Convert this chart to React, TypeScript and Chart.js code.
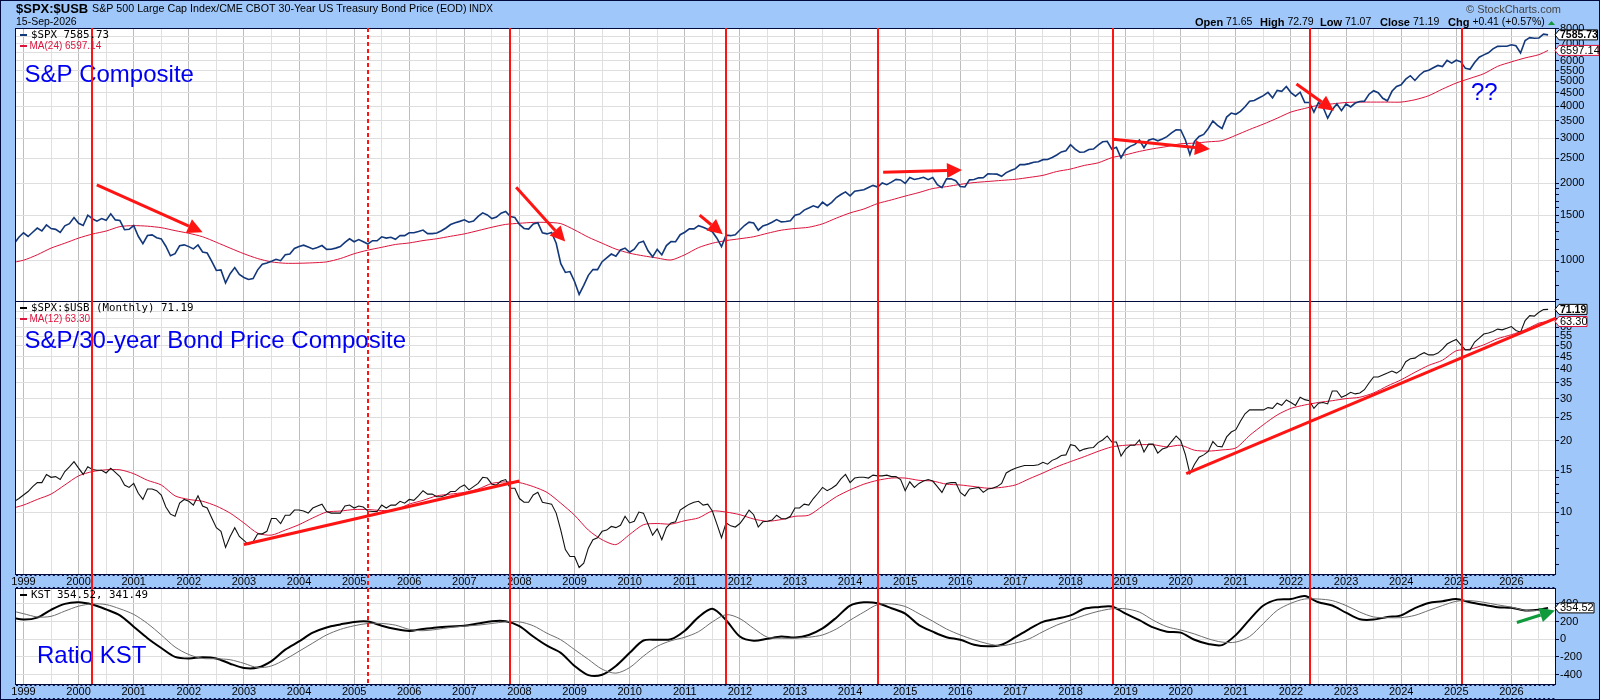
import React, { useEffect, useRef } from "react";
import { Chart, registerables } from "chart.js";

Chart.register(...registerables);

const BLUE = "#9fc7fa";
const NAVY = "#000a3c";
const RED = "#ff1414";
const CRIMSON = "#dc143c";
const FONT = '"Liberation Sans", Arial, sans-serif';
const MONO = '"DejaVu Sans Mono", monospace';

// monthly closes, Nov 1998 .. Sep 2026
const spxValues = [
  1163, 1229,
  1280, 1238, 1286, 1335, 1302, 1373, 1329, 1320, 1283, 1363, 1389, 1469,
  1394, 1366, 1499, 1452, 1421, 1455, 1431, 1518, 1437, 1429, 1315, 1320,
  1366, 1240, 1160, 1249, 1256, 1224, 1211, 1134, 1041, 1060, 1139, 1148,
  1130, 1107, 1147, 1077, 1067, 990, 912, 916, 815, 886, 936, 880,
  856, 841, 848, 917, 964, 975, 990, 1008, 996, 1051, 1058, 1112,
  1131, 1145, 1126, 1107, 1121, 1141, 1102, 1104, 1115, 1130, 1174, 1212,
  1181, 1204, 1181, 1157, 1192, 1191, 1234, 1220, 1229, 1207, 1249, 1248,
  1280, 1281, 1295, 1311, 1270, 1270, 1277, 1304, 1336, 1378, 1401, 1418,
  1438, 1407, 1421, 1482, 1531, 1503, 1455, 1474, 1527, 1549, 1481, 1468,
  1379, 1331, 1323, 1386, 1400, 1280, 1267, 1283, 1165, 969, 896, 903,
  826, 735, 798, 873, 919, 919, 987, 1021, 1057, 1036, 1096, 1115,
  1074, 1104, 1169, 1187, 1089, 1031, 1102, 1049, 1141, 1183, 1181, 1258,
  1286, 1327, 1326, 1364, 1345, 1321, 1292, 1219, 1131, 1253, 1247, 1258,
  1312, 1366, 1408, 1398, 1310, 1362, 1379, 1407, 1441, 1412, 1416, 1426,
  1498, 1515, 1569, 1598, 1631, 1606, 1686, 1633, 1682, 1757, 1806, 1848,
  1783, 1859, 1872, 1884, 1924, 1960, 1931, 2003, 1972, 2018, 2068, 2059,
  1995, 2105, 2068, 2086, 2107, 2063, 2104, 1972, 1920, 2079, 2080, 2044,
  1940, 1932, 2060, 2065, 2097, 2099, 2174, 2171, 2168, 2126, 2199, 2239,
  2279, 2364, 2363, 2384, 2412, 2423, 2470, 2472, 2519, 2575, 2648, 2674,
  2824, 2714, 2641, 2648, 2705, 2718, 2816, 2902, 2914, 2712, 2760, 2507,
  2704, 2784, 2834, 2946, 2752, 2942, 2980, 2926, 2977, 3038, 3141, 3231,
  3226, 2954, 2585, 2912, 3044, 3100, 3271, 3500, 3363, 3270, 3622, 3756,
  3714, 3811, 3973, 4181, 4204, 4298, 4395, 4523, 4308, 4605, 4567, 4766,
  4516, 4374, 4530, 4132, 4132, 3785, 4130, 3955, 3586, 3872, 4080, 3840,
  4077, 3970, 4109, 4169, 4180, 4450, 4589, 4508, 4288, 4194, 4568, 4770,
  4846, 5096, 5254, 5036, 5278, 5460, 5522, 5648, 5762, 5705, 6032, 5882,
  6041, 5955, 5612, 5569, 5912, 6205, 6339, 6460, 6688, 6840, 6849, 6845,
  6939, 6879, 6450, 7210, 7400, 7360, 7380, 7640, 7585.73,
];

const ratioValues = [
  11.1, 11.4,
  11.8, 12.2, 12.8, 13.3, 13.3, 14.4, 14.0, 14.1, 13.7, 14.8, 15.5, 16.3,
  15.3, 14.4, 15.5, 15.1, 15.0, 15.0, 14.6, 15.3, 14.7, 14.1, 13.0, 12.7,
  13.2, 12.0, 11.3, 12.5, 12.5, 12.3, 11.8, 10.5, 9.8, 9.6, 10.9, 11.3,
  11.1, 10.7, 11.7, 10.6, 10.4, 9.45, 8.6, 8.3, 7.1, 7.9, 8.6, 7.9,
  7.6, 7.3, 7.5, 8.1, 8.1, 8.3, 9.4, 9.4, 8.95, 9.7, 9.7, 10.2,
  10.2, 10.1, 9.9, 10.4, 10.6, 10.8, 10.05, 9.9, 9.9, 9.9, 10.6, 10.7,
  10.4, 10.6, 10.5, 10.1, 10.05, 10.05, 10.7, 10.4, 10.7, 10.7, 11.1, 10.9,
  11.3, 11.2, 11.7, 12.3, 11.9, 11.9, 11.6, 11.6, 11.8, 12.2, 12.2, 12.7,
  13.0, 12.4, 12.8, 13.2, 14.0, 13.9, 13.1, 13.0, 13.5, 13.7, 12.6, 12.6,
  11.4, 11.0, 11.0, 11.8, 12.1, 11.0, 10.9, 10.8, 9.9, 8.4, 6.95, 6.5,
  6.5, 5.85, 6.1, 7.05, 7.65, 7.8, 8.3, 8.4, 8.7, 8.6, 8.8, 9.6,
  9.0, 9.15, 10.0, 9.9, 8.9, 8.0, 8.5, 7.65, 8.6, 9.0, 9.1, 10.2,
  10.5, 10.8, 11.0, 11.1, 10.7, 10.8, 10.1, 8.9, 7.8, 9.0, 8.75, 8.65,
  8.95, 9.5, 10.2, 9.75, 8.65, 9.1, 9.15, 9.25, 9.7, 9.4, 9.35, 9.6,
  10.4, 10.4, 10.8, 10.7, 11.4, 12.0, 12.7, 12.3, 12.6, 13.0, 13.8, 14.4,
  13.3, 13.9, 14.0, 14.0, 13.9, 14.3, 14.2, 14.2, 14.3, 14.1, 14.1, 13.7,
  12.3, 13.4, 12.7, 13.2, 13.5, 13.7, 13.5, 12.8, 12.1, 13.2, 13.3, 13.3,
  12.1, 11.7, 12.5, 12.6, 12.7, 12.1, 12.5, 12.6, 12.8, 13.2, 14.6, 15.0,
  15.3, 15.5, 15.7, 15.7, 15.7, 15.8, 16.2, 15.9, 16.5, 16.8, 17.3, 17.4,
  19.2, 19.0, 18.05, 18.4, 18.6, 18.7, 19.6, 20.1, 20.9, 19.7, 19.7, 17.2,
  18.4, 19.1, 19.1, 20.1, 17.9, 19.3, 19.3, 17.7, 18.4, 18.7, 19.8, 20.9,
  20.0, 17.5, 14.5, 15.9, 17.0, 17.4, 18.0, 19.8, 18.9, 18.8, 20.7, 21.7,
  22.2, 24.1, 25.9, 26.9, 26.9, 26.9, 26.9, 27.5, 27.3, 28.7, 28.1, 29.6,
  28.9, 28.1, 30.4, 29.7, 29.4, 27.3, 28.7, 28.9, 28.5, 32.3, 32.3, 30.4,
  31.0, 31.9, 31.4, 31.7, 32.7, 34.9, 37.0, 37.0, 37.7, 38.4, 39.2, 38.4,
  39.6, 42.9, 44.1, 44.4, 45.8, 46.8, 45.8, 45.8, 46.6, 48.4, 50.9, 52.2,
  53.2, 50.5, 48.1, 48.1, 51.9, 53.9, 56.1, 56.6, 57.5, 58.8, 58.4, 59.3,
  60.3, 58.0, 57.1, 63.9, 67.0, 66.7, 69.2, 71.0, 71.19,
];

// quarterly readings, Oct 1998 .. Jul 2026, then the Sep 2026 end value
const ma24Values = [
  975,
  1000, 1050, 1115, 1165, 1220, 1265, 1300, 1353, 1365, 1358, 1340, 1305,
  1274, 1235, 1175, 1115, 1060, 1015, 985, 973, 973, 977, 985, 1015,
  1060, 1095, 1123, 1152, 1168, 1193, 1213, 1240, 1267, 1305, 1345, 1380,
  1394, 1405, 1405, 1390, 1313, 1230, 1165, 1105, 1065, 1040, 1020, 1002,
  1050, 1120, 1165, 1193, 1213, 1235, 1274, 1310, 1330, 1345, 1387, 1460,
  1530, 1585, 1665, 1720, 1780, 1838, 1905, 1938, 1978, 2010, 2030, 2050,
  2070, 2105, 2145, 2220, 2270, 2345, 2400, 2515, 2580, 2660, 2725, 2780,
  2850, 2865, 2900, 2930, 3075, 3240, 3400, 3585, 3790, 3915, 4030, 4080,
  4130, 4145, 4145, 4145, 4145, 4233, 4390, 4660, 4920, 5130, 5350, 5716,
  5950, 6165, 6350, 6597.14,
];

const ma12Values = [
  10.3,
  10.7, 11.3, 11.9, 13.0, 14.2, 14.8, 15.06, 15.06, 14.5, 13.6, 13.0, 11.7,
  11.3, 11.1, 10.6, 9.9, 9.0, 8.15, 8.0, 8.4, 8.85, 9.45, 10.0, 10.1,
  10.25, 10.25, 10.15, 10.2, 10.8, 11.2, 11.7, 11.9, 12.1, 12.5, 13.2, 13.4,
  13.3, 12.8, 12.1, 10.9, 9.7, 8.4, 7.65, 7.3, 8.05, 8.85, 8.95, 8.9,
  9.2, 9.45, 10.1, 10.0, 9.75, 9.35, 9.15, 9.3, 9.6, 9.7, 10.6, 11.6,
  12.4, 13.1, 13.6, 13.9, 13.9, 13.6, 13.5, 13.1, 13.0, 12.8, 12.6, 12.7,
  13.0, 13.8, 14.6, 15.5, 16.3, 17.1, 18.0, 18.8, 19.1, 19.2, 19.2, 18.8,
  19.1, 18.2, 18.05, 18.25, 18.6, 21.0, 23.3, 25.6, 27.3, 28.2, 28.9, 29.4,
  30.0, 30.4, 31.7, 33.9, 36.0, 38.7, 41.4, 43.5, 47.7, 48.4, 50.5, 53.6,
  55.7, 58.4, 62.3, 63.3,
];

const kstValues = [
  250,
  222, 244, 333, 400, 418, 392, 337, 270, 141, 11, -100, -200,
  -218, -204, -218, -278, -326, -322, -248, -118, -26, 74, 133, 167,
  196, 200, 152, 115, 93, 115, 133, 144, 152, 178, 204, 204,
  148, 30, -74, -155, -303, -407, -403, -303, -155, -15, -7, 0,
  96, 250, 344, 215, 30, -18, 4, 30, 18, 48, 122, 244,
  381, 418, 407, 351, 289, 159, 85, 22, -7, -63, -81, -63,
  22, 115, 196, 233, 270, 344, 363, 370, 289, 215, 133, 85,
  74, -7, -55, -67, 48, 222, 381, 448, 455, 488, 418, 381,
  300, 226, 222, 252, 270, 352, 411, 429, 455, 418, 389, 363,
  355, 326, 333, 354.52,
];

const kstSignalValues = [
  326,
  289, 252, 259, 318, 374, 400, 392, 344, 281, 178, 48, -89,
  -174, -218, -222, -233, -274, -322, -303, -229, -137, -44, 48, 111,
  152, 178, 178, 159, 111, 96, 111, 133, 148, 159, 178, 196,
  196, 152, 67, -7, -118, -229, -340, -385, -322, -192, -81, -18,
  22, 85, 196, 278, 233, 122, 22, 11, 11, 22, 48, 115,
  215, 307, 392, 400, 370, 289, 204, 115, 48, -7, -52, -74,
  -44, 4, 85, 159, 215, 270, 315, 344, 344, 307, 215, 141,
  104, 59, 4, -33, -33, 30, 178, 326, 407, 455, 455, 437,
  381, 307, 252, 244, 244, 270, 326, 381, 429, 437, 418, 389,
  363, 326, 326, 341.49,
];

const monthDates = spxValues.map((_, i) => 1998 + (10 + i) / 12);
const quarterDates = ma24Values.map((_, i) =>
  i === ma24Values.length - 1 ? 2026 + 8 / 12 : 1998.75 + i * 0.25
);

const years = Array.from({ length: 28 }, (_, i) => 1999 + i);
const xTicks = years.flatMap((y) => [y, y + 0.5]);

const eventDates = [2000.25, 2005.26, 2007.83, 2011.75, 2014.51, 2018.77, 2022.34, 2025.1];
const dashedEvents = [2005.26];

const spxLabels = [8000, 7000, 6000, 5500, 5000, 4500, 4000, 3500, 3000, 2500, 2000, 1500, 1000];
const spxGrid = [8000, 7500, 7000, 6500, 6000, 5500, 5000, 4500, 4000, 3500, 3000, 2500, 2000, 1500, 1000];
const spxMinor = [900, 800, 700, 1100, 1200, 1300, 1400, 1600, 1700, 1800, 1900];

const ratioLabels = [70, 60, 55, 50, 45, 40, 35, 30, 25, 20, 15, 10];
const ratioGrid = [70, 65, 60, 55, 50, 45, 40, 35, 30, 25, 20, 15, 10];
const ratioMinor = [9, 8, 7, 6, 11, 12, 13, 14];

const kstLabels = [-400, -200, 0, 200, 400];

// [x1, y1, x2, y2] in date / value units
const spxArrows = [
  [2000.33, 1968, 2002.25, 1285],
  [2007.94, 1926, 2008.83, 1182],
  [2011.27, 1500, 2011.69, 1262],
  [2014.6, 2207, 2016.03, 2250],
  [2018.77, 2970, 2020.53, 2720],
  [2022.1, 4880, 2022.78, 3838],
];
const ratioTrends = [
  [2003.0, 7.3, 2008.0, 13.5],
  [2020.1, 14.5, 2026.81, 65.4],
];
const kstArrows = [[2026.1, 189, 2026.79, 326]];

const toPoints = (dates: number[], values: number[]) =>
  values.map((y, i) => ({ x: dates[i], y }));

const line = (data: any, color: string, width: number, smooth = 0) => ({
  data,
  borderColor: color,
  borderWidth: width,
  pointRadius: 0,
  tension: smooth,
});

function drawLegend(ctx: CanvasRenderingContext2D, rows: any[], top: number) {
  rows.forEach((r, i) => {
    const y = top + i * 11;
    ctx.fillStyle = r.color;
    ctx.fillRect(20, y - 1, 7, 2);
    ctx.font = r.mono ? `10.8px ${MONO}` : `10px ${FONT}`;
    ctx.textBaseline = "middle";
    ctx.textAlign = "left";
    ctx.fillStyle = r.textColor || r.color;
    ctx.fillText(r.text, r.mono ? 31 : 29.5, y);
  });
}

function drawTag(ctx: CanvasRenderingContext2D, y: number, tag: any) {
  const x = 1559;
  const h = 10;
  ctx.beginPath();
  ctx.moveTo(1555, y);
  ctx.lineTo(x, y - h / 2);
  ctx.lineTo(x + tag.width, y - h / 2);
  ctx.lineTo(x + tag.width, y + h / 2);
  ctx.lineTo(x, y + h / 2);
  ctx.closePath();
  ctx.fillStyle = "#fff";
  ctx.fill();
  ctx.strokeStyle = tag.color;
  ctx.lineWidth = 1;
  ctx.stroke();
  ctx.fillStyle = tag.textColor;
  ctx.font = `${tag.bold ? "bold 10.5px" : "11px"} ${FONT}`;
  ctx.textAlign = "left";
  ctx.textBaseline = "middle";
  ctx.fillText(tag.text, x + 1, y + 0.5);
}

function drawArrow(ctx: CanvasRenderingContext2D, p: number[], color: string, head = true, width = 3) {
  const [x1, y1, x2, y2] = p;
  const a = Math.atan2(y2 - y1, x2 - x1);
  const len = head ? 15 : 0;
  const half = 7.5;
  ctx.strokeStyle = color;
  ctx.fillStyle = color;
  ctx.lineWidth = width;
  ctx.setLineDash([]);
  ctx.beginPath();
  ctx.moveTo(x1, y1);
  ctx.lineTo(x2 - Math.cos(a) * len, y2 - Math.sin(a) * len);
  ctx.stroke();
  if (head) {
    ctx.beginPath();
    ctx.moveTo(x2, y2);
    ctx.lineTo(x2 - Math.cos(a) * len - Math.sin(a) * half, y2 - Math.sin(a) * len + Math.cos(a) * half);
    ctx.lineTo(x2 - Math.cos(a) * len + Math.sin(a) * half, y2 - Math.sin(a) * len - Math.cos(a) * half);
    ctx.closePath();
    ctx.fill();
  }
}

function drawHeader(ctx: CanvasRenderingContext2D) {
  const put = (text: string, x: number, y: number, font: string, color = "#000") => {
    ctx.font = font;
    ctx.fillStyle = color;
    ctx.fillText(text, x, y);
  };
  ctx.textAlign = "left";
  ctx.textBaseline = "middle";
  put("$SPX:$USB", 16, 9, `bold 13px ${FONT}`);
  put("S&P 500 Large Cap Index/CME CBOT 30-Year US Treasury Bond Price (EOD)", 92, 9, `10.7px ${FONT}`);
  put("INDX", 469, 9.5, `10px ${FONT}`);
  put("15-Sep-2026", 16, 22.5, `10.5px ${FONT}`);
  put("\u00a9 StockCharts.com", 1466, 9.5, `11px ${FONT}`, "#444");
  const quote: [string, string, number][] = [
    ["Open", "71.65", 1195],
    ["High", "72.79", 1260],
    ["Low", "71.07", 1320],
    ["Close", "71.19", 1380],
    ["Chg", "+0.41 (+0.57%)", 1448],
  ];
  quote.forEach(([k, v, x]) => {
    put(k, x, 22.5, `bold 11px ${FONT}`);
    put(v, x + ctx.measureText(k).width + 3, 22.5, `10.5px ${FONT}`);
  });
  ctx.fillStyle = "#14963c";
  ctx.beginPath();
  ctx.moveTo(1548, 25);
  ctx.lineTo(1555, 25);
  ctx.lineTo(1551.5, 21);
  ctx.closePath();
  ctx.fill();
}

interface PanelProps {
  top: number;
  height: number;
  padTop: number;
  bandHeight: number;
  scale: any;
  datasets: any[];
  legend: any[];
  notes: any[];
  tags: any[];
  arrows: number[][];
  arrowColor: string;
  arrowHead: boolean;
  header?: boolean;
}

const Panel: React.FC<PanelProps> = (p) => {
  const chartRef = useRef<HTMLCanvasElement | null>(null);

  useEffect(() => {
    const ctx = chartRef.current?.getContext("2d");
    if (!ctx) {
      return;
    }

    const paint = {
      id: "paint",
      beforeDraw(chart: any) {
        const c = chart.ctx;
        c.save();
        c.fillStyle = BLUE;
        c.fillRect(0, 0, chart.width, chart.height);
        const a = chart.chartArea;
        c.fillStyle = "#fff";
        c.fillRect(a.left, a.top, a.right - a.left, a.bottom - a.top);
        if (p.header) drawHeader(c);
        c.restore();
      },
      beforeDatasetsDraw(chart: any) {
        const c = chart.ctx;
        c.save();
        p.notes.forEach((n) => {
          c.font = `${n.size}px ${FONT}`;
          c.fillStyle = "#0000f0";
          c.textAlign = "left";
          c.textBaseline = "alphabetic";
          c.fillText(n.text, n.x, n.y);
        });
        c.restore();
      },
      afterDatasetsDraw(chart: any) {
        const c = chart.ctx;
        const a = chart.chartArea;
        const sx = chart.scales.x;
        const sy = chart.scales.y;
        c.save();
        // frame
        c.strokeStyle = NAVY;
        c.lineWidth = 1;
        c.strokeRect(a.left - 0.5, a.top + 0.5, a.right - a.left, a.bottom - a.top);
        if (p.bandHeight > 0) {
          c.setLineDash([2, 2.6]);
          [a.bottom + 1.5, a.bottom + p.bandHeight - 0.5].forEach((y) => {
            c.beginPath();
            c.moveTo(a.left, y);
            c.lineTo(a.right, y);
            c.stroke();
          });
          c.setLineDash([]);
        }
        // event lines run through the date band of the middle panel
        const y1 = p.scale.type === "logarithmic" ? chart.height : a.bottom;
        eventDates.forEach((d) => {
          const x = Math.round(sx.getPixelForValue(d));
          c.strokeStyle = RED;
          c.lineWidth = 2;
          c.setLineDash(dashedEvents.includes(d) ? [4, 3] : []);
          c.beginPath();
          c.moveTo(x, a.top);
          c.lineTo(x, y1);
          c.stroke();
        });
        c.setLineDash([]);
        p.arrows.forEach((r) => {
          drawArrow(
            c,
            [sx.getPixelForValue(r[0]), sy.getPixelForValue(r[1]), sx.getPixelForValue(r[2]), sy.getPixelForValue(r[3])],
            p.arrowColor,
            p.arrowHead
          );
        });
        drawLegend(c, p.legend, a.top + 7);
        p.tags.forEach((t) => drawTag(c, sy.getPixelForValue(t.value), t));
        c.restore();
      },
    };

    const chart = new Chart(ctx, {
      type: "line",
      data: { datasets: p.datasets },
      options: {
        animation: false,
        responsive: false,
        devicePixelRatio: 1,
        parsing: false,
        normalized: true,
        layout: { padding: { left: 16, right: 0, top: p.padTop, bottom: 0 } },
        plugins: { legend: { display: false }, tooltip: { enabled: false }, title: { display: false } },
        scales: {
          x: {
            type: "linear",
            min: 1998.864,
            max: 2026.81,
            afterBuildTicks: (axis: any) => {
              axis.ticks = xTicks.map((value) => ({ value }));
            },
            afterFit: (axis: any) => {
              axis.height = p.height - p.padTop - p.scale.areaHeight;
              axis.paddingLeft = 0;
              axis.paddingRight = 0;
            },
            grid: {
              color: (c: any) => (Number.isInteger(c.tick?.value) ? "#bdbdbd" : "#e0e0e0"),
              lineWidth: 1,
              drawTicks: false,
            },
            border: { display: false },
            ticks: {
              display: p.bandHeight > 0,
              autoSkip: false,
              maxRotation: 0,
              padding: 1.5,
              color: "#000",
              font: { family: FONT, size: 11 },
              callback: (v: any) => (Number.isInteger(v) ? String(v) : ""),
            },
          },
          y: {
            position: "right",
            type: p.scale.type,
            min: p.scale.min,
            max: p.scale.max,
            afterBuildTicks: (axis: any) => {
              axis.ticks = [...p.scale.grid, ...p.scale.minor].map((value: number) => ({ value }));
            },
            afterFit: (axis: any) => {
              axis.width = 44;
              axis.paddingTop = 0;
              axis.paddingBottom = 0;
            },
            grid: {
              color: (c: any) => (p.scale.grid.includes(c.tick?.value) ? "#dedede" : "rgba(0,0,0,0)"),
              tickColor: NAVY,
              tickLength: 3,
              lineWidth: 1,
            },
            border: { display: false },
            ticks: {
              autoSkip: false,
              padding: 1,
              color: "#000",
              font: { family: FONT, size: 11 },
              callback: (v: any) => (p.scale.labels.includes(v) ? String(v) : ""),
            },
          },
        },
      },
      plugins: [paint],
    } as any);

    return () => {
      chart.destroy();
    };
  }, []);

  return (
    <canvas
      ref={chartRef}
      width={1600}
      height={p.height}
      style={{ position: "absolute", left: 0, top: p.top, display: "block" }}
    />
  );
};

const App: React.FC = () => (
  <div style={{ position: "absolute", left: 0, top: 0, width: 1600, height: 700, overflow: "hidden", background: BLUE }}>
    <Panel
      top={0}
      height={302}
      padTop={28}
      bandHeight={0}
      header
      scale={{ type: "logarithmic", min: 693, max: 8070, grid: spxGrid, minor: spxMinor, labels: spxLabels, areaHeight: 273 }}
      datasets={[
        line(toPoints(monthDates, spxValues), "#12377a", 1.6),
        line(toPoints(quarterDates, ma24Values), CRIMSON, 1, 0.25),
      ]}
      legend={[
        { color: "#12377a", textColor: "#000", text: "$SPX 7585.73", mono: true },
        { color: CRIMSON, text: "MA(24) 6597.14" },
      ]}
      notes={[
        { text: "S&P Composite", x: 24.5, y: 82, size: 24 },
        { text: "??", x: 1471, y: 100, size: 24 },
      ]}
      tags={[
        { value: 7585.73, text: "7585.73", width: 38.5, color: "#000", textColor: "#000", bold: true },
        { value: 6597.14, text: "6597.14", width: 40, color: CRIMSON, textColor: "#000" },
      ]}
      arrows={spxArrows}
      arrowColor={RED}
      arrowHead
    />
    <Panel
      top={301}
      height={287}
      padTop={0}
      bandHeight={14}
      scale={{ type: "logarithmic", min: 5.49, max: 77.2, grid: ratioGrid, minor: ratioMinor, labels: ratioLabels, areaHeight: 273 }}
      datasets={[
        line(toPoints(monthDates, ratioValues), "#111", 1.1),
        line(toPoints(quarterDates, ma12Values), CRIMSON, 1, 0.25),
      ]}
      legend={[
        { color: "#000", text: "$SPX:$USB (Monthly) 71.19", mono: true },
        { color: CRIMSON, text: "MA(12) 63.30" },
      ]}
      notes={[{ text: "S&P/30-year Bond Price Composite", x: 24.5, y: 47, size: 24 }]}
      tags={[
        { value: 71.19, text: "71.19", width: 28, color: "#000", textColor: "#000", bold: true },
        { value: 63.3, text: "63.30", width: 28, color: CRIMSON, textColor: "#000" },
      ]}
      arrows={ratioTrends}
      arrowColor={RED}
      arrowHead={false}
    />
    <Panel
      top={588}
      height={112}
      padTop={0}
      bandHeight={15}
      scale={{ type: "linear", min: -508, max: 580, grid: kstLabels, minor: [], labels: kstLabels, areaHeight: 96 }}
      datasets={[
        line(toPoints(quarterDates, kstSignalValues), "#6e6e6e", 1, 0.3),
        line(toPoints(quarterDates, kstValues), "#000", 2, 0.3),
      ]}
      legend={[{ color: "#000", text: "KST 354.52, 341.49", mono: true }]}
      notes={[{ text: "Ratio KST", x: 37, y: 75, size: 24 }]}
      tags={[{ value: 354.52, text: "354.52", width: 35, color: "#000", textColor: "#000" }]}
      arrows={kstArrows}
      arrowColor="#0f9a3c"
      arrowHead
    />
    <div style={{ position: "absolute", left: 0, top: 0, width: 1598, height: 698, border: `1px solid ${NAVY}`, pointerEvents: "none" }} />
  </div>
);

export default App;
